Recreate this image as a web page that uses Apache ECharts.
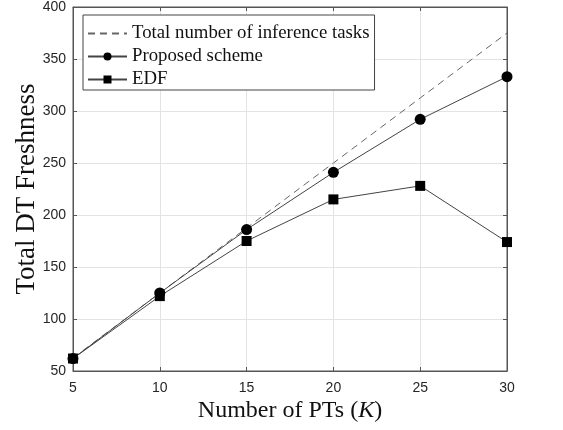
<!DOCTYPE html>
<html><head><meta charset="utf-8">
<script src="https://cdn.jsdelivr.net/npm/echarts@6/dist/echarts.min.js"></script>
<style>html,body{margin:0;padding:0;background:#fff}#c{width:563px;height:430px}</style>
</head><body><div id="c"></div>
<script>
var categories = [5, 10, 15, 20, 25, 30];
var totalTasks = [62.5, 125, 187.5, 250, 312.5, 375];
var proposed = [62, 125, 186, 241, 292, 333];
var edf = [62, 122, 175, 215, 228, 174];
var seriesNames = ['Total number of inference tasks', 'Proposed scheme', 'EDF'];

function pairs(v){ return categories.map(function(k,i){ return [k, v[i]]; }); }

var chart = echarts.init(document.getElementById('c'));
var serif = '"Liberation Serif", "DejaVu Serif", serif';
var sans = '"Liberation Sans", Arial, sans-serif';
var axisCol = '#555';
function frameAxis(extra){
  return Object.assign({
    axisLine: {show: true, lineStyle: {color: axisCol}},
    axisTick: {show: true, inside: true, length: 4, lineStyle: {color: axisCol}},
    axisLabel: {show: false}, splitLine: {show: false}
  }, extra);
}
chart.setOption({
  animation: false,
  backgroundColor: '#fff',
  grid: {left: 73, right: 56, top: 7, bottom: 59, show: true, borderColor: axisCol, borderWidth: 1,
         containLabel: false, outerBoundsMode: 'none'},
  legend: {
    orient: 'vertical', left: 83, top: 15,
    data: [{name: seriesNames[0], itemStyle: {opacity: 0}}, seriesNames[1], seriesNames[2]],
    itemWidth: 39, itemHeight: 10, itemGap: 4,
    padding: [9, 5, 1, 4],
    borderColor: '#444', borderWidth: 1, backgroundColor: '#fff',
    textStyle: {fontFamily: serif, fontSize: 18.8, color: '#111'}
  },
  xAxis: [{
    type: 'value', min: 5, max: 30, interval: 5,
    axisLine: {show: true, lineStyle: {color: axisCol}},
    axisTick: {show: true, inside: true, length: 4, lineStyle: {color: axisCol}},
    axisLabel: {fontFamily: sans, fontSize: 14, color: '#262626', margin: 10},
    splitLine: {show: true, lineStyle: {color: '#e3e3e3'}},
    name: '{n|Number of PTs (}{i|K}{n|)}', nameLocation: 'middle', nameGap: 28,
    nameMoveOverlap: false,
    nameTextStyle: {rich: {
      n: {fontFamily: serif, fontSize: 24, color: '#111'},
      i: {fontFamily: serif, fontSize: 24, fontStyle: 'italic', color: '#111'}}}
  }, frameAxis({type: 'value', min: 5, max: 30, interval: 5, position: 'top'})],
  yAxis: [{
    type: 'value', min: 50, max: 400, interval: 50,
    axisLine: {show: true, lineStyle: {color: axisCol}},
    axisTick: {show: true, inside: true, length: 4, lineStyle: {color: axisCol}},
    axisLabel: {fontFamily: sans, fontSize: 14, color: '#262626', margin: 7},
    splitLine: {show: true, lineStyle: {color: '#e3e3e3'}},
    name: 'Total DT Freshness', nameLocation: 'middle', nameGap: 33,
    nameMoveOverlap: false,
    nameTextStyle: {fontFamily: serif, fontSize: 27, color: '#111'}
  }, frameAxis({type: 'value', min: 50, max: 400, interval: 50, position: 'right'})],
  series: [{
    name: seriesNames[0], type: 'line', data: pairs(totalTasks),
    symbol: 'none', lineStyle: {color: '#666', width: 1, type: [7, 5]},
    itemStyle: {color: '#666'}, z: 1
  }, {
    name: seriesNames[1], type: 'line', data: pairs(proposed),
    symbol: 'circle', symbolSize: 11,
    lineStyle: {color: '#444', width: 1}, itemStyle: {color: '#000'}, z: 3
  }, {
    name: seriesNames[2], type: 'line', data: pairs(edf),
    symbol: 'rect', symbolSize: 10,
    lineStyle: {color: '#444', width: 1}, itemStyle: {color: '#000'}, z: 2
  }]
});
</script></body></html>
